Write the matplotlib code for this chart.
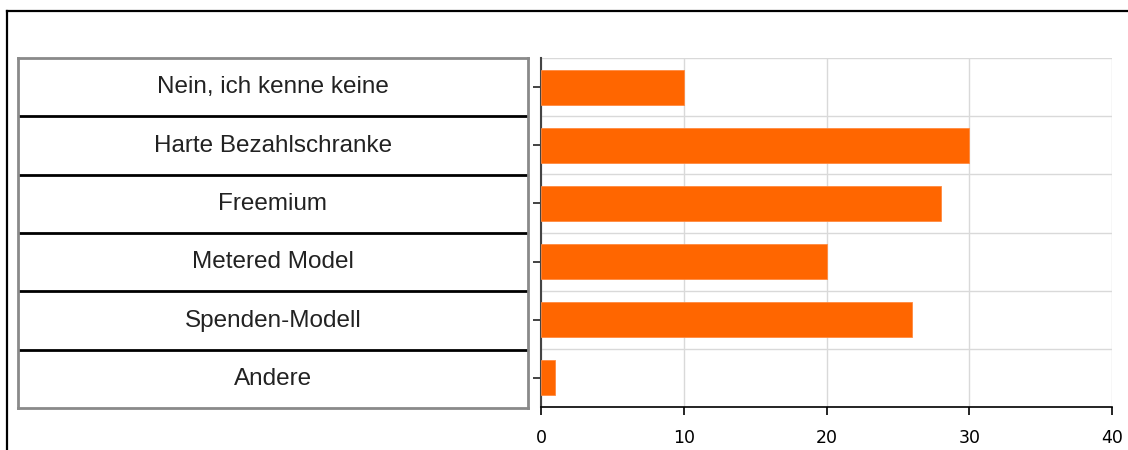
import numpy as np
import matplotlib.pyplot as plt
from matplotlib.lines import Line2D

categories = ['Nein, ich kenne keine', 'Harte Bezahlschranke', 'Freemium',
              'Metered Model', 'Spenden-Modell', 'Andere']
values = [10, 30, 28, 20, 26, 1]
x_ticks = [0, 10, 20, 30, 40]

W, H = 1128, 450
fig = plt.figure(figsize=(W / 100, H / 100), dpi=100)

def box(x0, y0, x1, y1):
    # pixel coords (top-left origin) -> figure fraction rect
    return [x0 / W, 1 - y1 / H, (x1 - x0) / W, (y1 - y0) / H]

# outer frame (top and left lines)
fig.add_artist(Line2D([7 / W, 1], [1 - 11 / H, 1 - 11 / H], color='black', lw=1.6))
fig.add_artist(Line2D([7 / W, 7 / W], [0, 1 - 11 / H], color='black', lw=1.6))

# bar chart
ax = fig.add_axes(box(541, 58, 1112, 407))
pos = np.arange(len(categories))
ax.barh(pos, values, height=0.6, color='#ff6600', edgecolor='#ff8a40', linewidth=0.6, zorder=3)
ax.set_xlim(0, 40)
ax.set_ylim(len(categories) - 0.5, -0.5)
ax.set_xticks(x_ticks)
ax.set_xticklabels([str(t) for t in x_ticks], fontsize=12.5, family='DejaVu Sans')
ax.set_yticks(pos)
ax.set_yticklabels([])
ax.set_yticks(np.arange(-0.5, len(categories), 1), minor=True)
ax.tick_params(axis='y', which='minor', length=0)
ax.tick_params(axis='y', which='major', length=6, width=1.2, color='#222222')
ax.tick_params(axis='x', length=6, width=1.2, color='black', pad=10)
ax.grid(axis='x', color='#d9d9d9', lw=1, zorder=0)
ax.grid(axis='y', which='minor', color='#d9d9d9', lw=1, zorder=0)
for s in ['top', 'right']:
    ax.spines[s].set_visible(False)
ax.spines['left'].set_color('#444444')
ax.spines['left'].set_linewidth(1.5)
ax.spines['bottom'].set_color('black')
ax.spines['bottom'].set_linewidth(1.2)

# label table on the left
tb = fig.add_axes(box(18, 58, 528, 408))
tb.set_xlim(0, 1)
tb.set_ylim(len(categories), 0)
tb.set_xticks([])
tb.set_yticks([])
for s in tb.spines.values():
    s.set_color('#8a8a8a')
    s.set_linewidth(2)
for i, c in enumerate(categories):
    tb.text(0.5, i + 0.5, c, ha='center', va='center', fontsize=17.5,
            family='Liberation Sans', color='#222222')
    if i > 0:
        tb.axhline(i, color='black', lw=2)

fig.savefig('out.png', dpi=100)
